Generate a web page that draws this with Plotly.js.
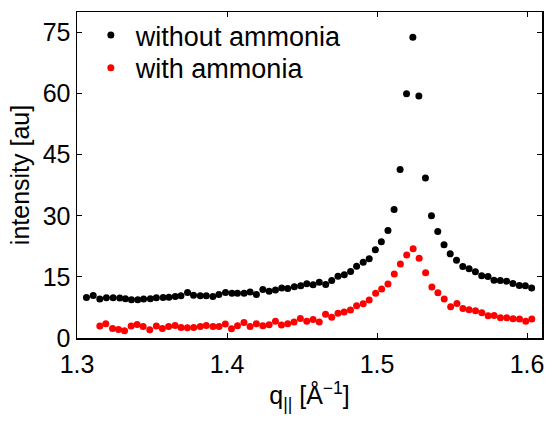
<!DOCTYPE html>
<html>
<head>
<meta charset="utf-8">
<script src="https://cdn.plot.ly/plotly-3.0.1.min.js"></script>
<style>html,body{margin:0;padding:0;background:#fff;}#chart{width:547px;height:422px;}</style>
</head>
<body>
<div id="chart"></div>
<script>
// q values (Å^-1) for the "without ammonia" series
const qWithout = [1.3063,1.3108,1.3152,1.3196,1.3241,1.3285,1.3323,1.3363,1.3405,1.3444,
  1.3489,1.3529,1.3574,1.3613,1.3655,1.3693,1.3737,1.3777,1.3822,1.3862,
  1.3906,1.3946,1.3990,1.4033,1.4070,1.4114,1.4154,1.4196,1.4239,1.4281,
  1.4323,1.4365,1.4405,1.4449,1.4492,1.4532,1.4574,1.4615,1.4658,1.4698,
  1.4740,1.4782,1.4824,1.4864,1.4908,1.4948,1.4989,1.5029,1.5073,1.5114,
  1.5154,1.5197,1.5239,1.5279,1.5323,1.5363,1.5405,1.5447,1.5488,1.5530,
  1.5572,1.5614,1.5656,1.5698,1.5740,1.5780,1.5822,1.5864,1.5906,1.5949,
  1.5989,1.6031];
const intensityWithout = [9.93,10.42,9.54,9.86,9.86,9.79,9.61,9.37,9.37,9.54,
  9.61,9.86,9.93,10.03,10.18,10.35,11.16,10.52,10.35,10.35,
  10.18,10.67,11.16,11.01,11.01,11.01,11.26,10.67,11.89,11.50,
  11.75,12.24,12.14,12.56,12.80,13.29,13.05,13.71,13.12,14.10,
  15.18,15.50,16.31,17.58,18.61,19.42,21.63,23.59,26.36,31.56,
  41.32,59.96,73.80,59.40,39.29,29.97,26.12,22.86,20.65,19.06,
  17.54,16.97,16.24,15.25,15.08,14.20,14.10,13.95,13.37,12.88,
  12.80,12.24];

// q values (Å^-1) for the "with ammonia" series
const qWith = [1.3152,1.3192,1.3237,1.3277,1.3317,1.3361,1.3401,1.3441,1.3485,1.3529,
  1.3569,1.3611,1.3654,1.3694,1.3736,1.3778,1.3822,1.3862,1.3907,1.3947,
  1.3989,1.4030,1.4070,1.4113,1.4154,1.4196,1.4239,1.4281,1.4323,1.4363,
  1.4405,1.4447,1.4489,1.4532,1.4574,1.4615,1.4657,1.4698,1.4740,1.4781,
  1.4823,1.4864,1.4908,1.4948,1.4991,1.5031,1.5073,1.5115,1.5156,1.5198,
  1.5241,1.5281,1.5324,1.5366,1.5406,1.5448,1.5491,1.5533,1.5573,1.5614,
  1.5657,1.5699,1.5741,1.5781,1.5823,1.5865,1.5907,1.5950,1.5992,1.6032];
const intensityWith = [2.92,3.48,2.33,2.08,1.77,2.92,3.31,2.82,2.01,2.92,
  2.33,2.82,3.07,2.58,2.50,2.58,2.82,3.07,2.82,2.82,
  3.41,2.26,2.99,3.80,2.82,3.48,2.99,3.24,4.14,3.16,
  3.48,3.90,4.78,4.14,4.51,3.92,5.81,5.08,6.06,6.35,
  6.87,7.90,8.39,9.32,11.01,12.02,13.24,15.70,18.15,20.36,
  21.88,19.60,15.99,12.51,11.13,9.54,7.65,8.46,7.23,6.92,
  6.67,6.18,5.44,5.52,4.95,4.95,4.71,4.64,4.14,4.64];

const xTicks = [1.3, 1.4, 1.5, 1.6];
const xTickLabels = ['1.3', '1.4', '1.5', '1.6'];
const yTicks = [0, 15, 30, 45, 60, 75];
const yTickLabels = ['0', '15', '30', '45', '60', '75'];

const FONT = 'Liberation Sans, Arial, Helvetica, sans-serif';

const traces = [
  {
    x: qWithout, y: intensityWithout, name: 'without ammonia',
    type: 'scatter', mode: 'markers', legend: 'legend',
    marker: {color: '#000000', size: 7}
  },
  {
    x: qWith, y: intensityWith, name: 'with ammonia',
    type: 'scatter', mode: 'markers', legend: 'legend2',
    marker: {color: '#ff0000', size: 7}
  }
];

const axisCommon = {
  showgrid: false, zeroline: false,
  showline: true, linecolor: '#000', linewidth: 1.5, mirror: 'ticks',
  ticks: 'inside', ticklen: 5, tickwidth: 1, tickcolor: '#000',
  tickfont: {family: FONT, size: 25, color: '#000'}
};

const legendCommon = {
  xanchor: 'left', yanchor: 'top', itemwidth: 40,
  bgcolor: 'rgba(0,0,0,0)', borderwidth: 0,
  font: {family: FONT, size: 27, color: '#000'}
};

const layout = {
  width: 547, height: 422,
  margin: {l: 77, r: 5, t: 12, b: 84},
  paper_bgcolor: '#fff', plot_bgcolor: '#fff',
  font: {family: FONT, color: '#000'},
  showlegend: true,
  legend: Object.assign({}, legendCommon, {x: 0.019, y: 1.003}),
  legend2: Object.assign({}, legendCommon, {x: 0.019, y: 0.9025}),
  xaxis: Object.assign({}, axisCommon, {
    range: [1.3, 1.61],
    tickmode: 'array', tickvals: xTicks, ticktext: xTickLabels,
    ticklabelstandoff: 3,
    title: {text: 'q<sub>||</sub> [Å<sup>−1</sup>]', font: {family: FONT, size: 25, color: '#000'}, standoff: 10}
  }),
  yaxis: Object.assign({}, axisCommon, {
    range: [0, 80],
    tickmode: 'array', tickvals: yTicks, ticktext: yTickLabels,
    title: {text: 'intensity [au]', font: {family: FONT, size: 25, color: '#000'}, standoff: 6}
  })
};

Plotly.newPlot('chart', traces, layout, {staticPlot: true, displayModeBar: false});
</script>
</body>
</html>
